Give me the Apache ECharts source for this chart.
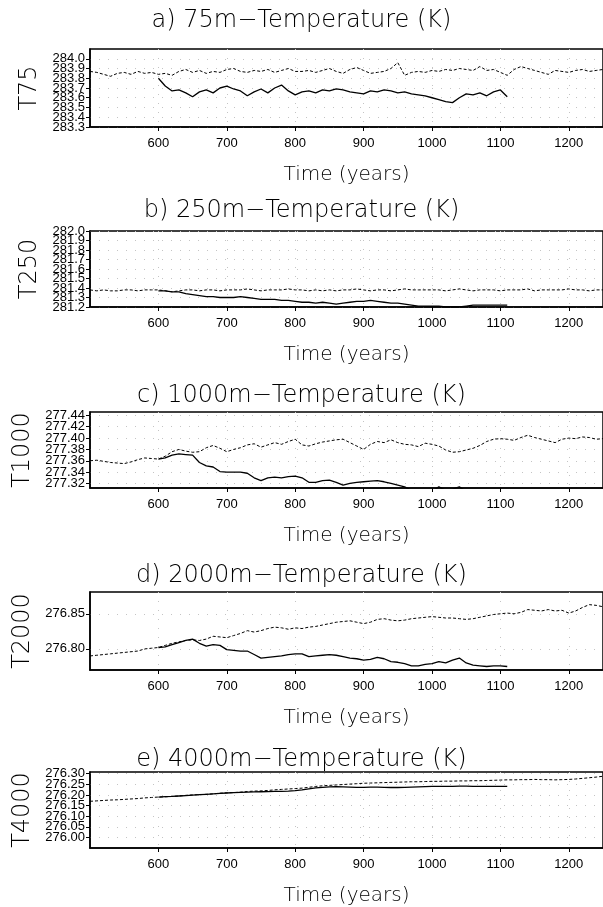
<!DOCTYPE html>
<html>
<head>
<meta charset="utf-8">
<script src="https://cdn.jsdelivr.net/npm/echarts@6/dist/echarts.min.js"></script>
<style>
  html, body { margin: 0; padding: 0; background: #fff; }
  #chart { width: 603px; height: 907px; }
</style>
</head>
<body>
<div id="chart"></div>
<script>
// years of the control run (dashed) and of the perturbed run (solid)
const yearsControl = [500, 510, 520, 530, 540, 550, 560, 570, 580, 590,
  600, 610, 620, 630, 640, 650, 660, 670, 680, 690,
  700, 710, 720, 730, 740, 750, 760, 770, 780, 790,
  800, 810, 820, 830, 840, 850, 860, 870, 880, 890,
  900, 910, 920, 930, 940, 950, 960, 970, 980, 990,
  1000, 1010, 1020, 1030, 1040, 1050, 1060, 1070, 1080, 1090,
  1100, 1110, 1120, 1130, 1140, 1150, 1160, 1170, 1180, 1190,
  1200, 1210, 1220, 1230, 1240, 1250];
const yearsRun = [600, 610, 620, 630, 640, 650, 660, 670, 680, 690,
  700, 710, 720, 730, 740, 750, 760, 770, 780, 790,
  800, 810, 820, 830, 840, 850, 860, 870, 880, 890,
  900, 910, 920, 930, 940, 950, 960, 970, 980, 990,
  1000, 1010, 1020, 1030, 1040, 1050, 1060, 1070, 1080, 1090,
  1100, 1110];
const xTickLabels = [600, 700, 800, 900, 1000, 1100, 1200];

// a) 75m
const t75Control = [283.87, 283.86, 283.84, 283.82, 283.85, 283.86, 283.84, 283.87, 283.85, 283.86,
  283.84, 283.85, 283.83, 283.87, 283.89, 283.86, 283.88, 283.85, 283.87, 283.86,
  283.89, 283.90, 283.87, 283.86, 283.88, 283.87, 283.89, 283.86, 283.88, 283.90,
  283.87, 283.87, 283.88, 283.86, 283.88, 283.90, 283.87, 283.85, 283.89, 283.91,
  283.88, 283.85, 283.86, 283.87, 283.90, 283.96, 283.83, 283.86, 283.87, 283.86,
  283.88, 283.87, 283.89, 283.88, 283.90, 283.89, 283.88, 283.92, 283.88, 283.89,
  283.86, 283.83, 283.89, 283.92, 283.90, 283.88, 283.86, 283.84, 283.88, 283.87,
  283.86, 283.88, 283.89, 283.87, 283.88, 283.89];
const t75Run = [283.80, 283.72, 283.67, 283.68, 283.65, 283.61, 283.66, 283.68, 283.65, 283.70,
  283.72, 283.69, 283.67, 283.62, 283.66, 283.69, 283.65, 283.70, 283.73, 283.67,
  283.63, 283.66, 283.67, 283.65, 283.68, 283.67, 283.69, 283.68, 283.66, 283.65,
  283.64, 283.67, 283.66, 283.68, 283.67, 283.65, 283.66, 283.64, 283.63, 283.62,
  283.60, 283.58, 283.56, 283.55, 283.60, 283.64, 283.63, 283.65, 283.62, 283.66,
  283.68, 283.61];
const t75Ticks = [283.3, 283.4, 283.5, 283.6, 283.7, 283.8, 283.9, 284.0];

// b) 250m
const t250Control = [281.38, 281.37, 281.38, 281.37, 281.37, 281.38, 281.38, 281.37, 281.38, 281.38,
  281.38, 281.37, 281.36, 281.37, 281.38, 281.38, 281.37, 281.38, 281.38, 281.37,
  281.38, 281.38, 281.38, 281.39, 281.38, 281.37, 281.38, 281.38, 281.38, 281.39,
  281.38, 281.38, 281.37, 281.38, 281.37, 281.38, 281.37, 281.38, 281.38, 281.39,
  281.38, 281.37, 281.38, 281.38, 281.37, 281.38, 281.39, 281.38, 281.38, 281.38,
  281.38, 281.38, 281.37, 281.38, 281.39, 281.38, 281.37, 281.38, 281.38, 281.38,
  281.37, 281.38, 281.38, 281.38, 281.39, 281.37, 281.38, 281.38, 281.38, 281.38,
  281.39, 281.38, 281.38, 281.37, 281.38, 281.38];
const t250Run = [281.37, 281.37, 281.36, 281.36, 281.34, 281.33, 281.32, 281.31, 281.31, 281.30,
  281.30, 281.30, 281.31, 281.30, 281.29, 281.28, 281.28, 281.28, 281.27, 281.27,
  281.26, 281.25, 281.25, 281.24, 281.25, 281.24, 281.23, 281.24, 281.25, 281.26,
  281.26, 281.27, 281.26, 281.25, 281.24, 281.24, 281.23, 281.22, 281.21, 281.21,
  281.21, 281.21, 281.20, 281.20, 281.20, 281.21, 281.22, 281.22, 281.22, 281.22,
  281.22, 281.22];
const t250Ticks = [281.2, 281.3, 281.4, 281.5, 281.6, 281.7, 281.8, 281.9, 282.0];

// c) 1000m
const t1000Control = [277.360, 277.361, 277.359, 277.357, 277.356, 277.355, 277.358, 277.362, 277.365, 277.364,
  277.363, 277.368, 277.376, 277.380, 277.377, 277.375, 277.376, 277.383, 277.387, 277.382,
  277.376, 277.380, 277.383, 277.388, 277.390, 277.384, 277.388, 277.392, 277.389, 277.394,
  277.398, 277.388, 277.386, 277.390, 277.393, 277.395, 277.397, 277.398, 277.392, 277.386,
  277.380, 277.389, 277.394, 277.392, 277.397, 277.392, 277.389, 277.388, 277.385, 277.391,
  277.389, 277.386, 277.379, 277.375, 277.376, 277.379, 277.382, 277.387, 277.394, 277.398,
  277.399, 277.398, 277.396, 277.401, 277.405, 277.401, 277.398, 277.395, 277.392, 277.398,
  277.400, 277.399, 277.402, 277.401, 277.398, 277.399];
const t1000Run = [277.363, 277.365, 277.370, 277.372, 277.371, 277.370, 277.357, 277.351, 277.349, 277.341,
  277.340, 277.340, 277.340, 277.338, 277.330, 277.325, 277.330, 277.331, 277.330, 277.332,
  277.333, 277.330, 277.322, 277.322, 277.325, 277.326, 277.322, 277.317, 277.320, 277.322,
  277.323, 277.324, 277.325, 277.323, 277.320, 277.317, 277.314, 277.308, 277.305, 277.304,
  277.306, 277.314, 277.308, 277.310, 277.314, 277.306, 277.304, 277.303, 277.303, 277.302,
  277.302, 277.302];
const t1000Ticks = [277.32, 277.34, 277.36, 277.38, 277.40, 277.42, 277.44];

// d) 2000m
const t2000Control = [276.790, 276.791, 276.792, 276.793, 276.794, 276.795, 276.796, 276.797, 276.800, 276.801,
  276.802, 276.805, 276.808, 276.810, 276.812, 276.813, 276.812, 276.814, 276.818, 276.817,
  276.816, 276.819, 276.822, 276.826, 276.824, 276.826, 276.829, 276.831, 276.830, 276.828,
  276.830, 276.829, 276.831, 276.832, 276.834, 276.836, 276.838, 276.839, 276.840, 276.838,
  276.836, 276.838, 276.842, 276.843, 276.841, 276.840, 276.841, 276.843, 276.844, 276.845,
  276.846, 276.845, 276.844, 276.844, 276.843, 276.842, 276.843, 276.845, 276.847, 276.849,
  276.850, 276.851, 276.850, 276.852, 276.856, 276.855, 276.854, 276.856, 276.854, 276.855,
  276.851, 276.854, 276.859, 276.863, 276.862, 276.860];
const t2000Run = [276.802, 276.803, 276.806, 276.809, 276.812, 276.814, 276.808, 276.804, 276.806, 276.805,
  276.799, 276.798, 276.797, 276.797, 276.792, 276.787, 276.788, 276.789, 276.790, 276.792,
  276.793, 276.793, 276.789, 276.790, 276.791, 276.792, 276.791, 276.789, 276.787, 276.786,
  276.784, 276.785, 276.788, 276.786, 276.782, 276.781, 276.779, 276.776, 276.776, 276.778,
  276.779, 276.782, 276.780, 276.784, 276.787, 276.780, 276.777, 276.776, 276.775, 276.776,
  276.776, 276.775];
const t2000Ticks = [276.80, 276.85];

// e) 4000m
const t4000Control = [276.170, 276.172, 276.174, 276.176, 276.177, 276.179, 276.181, 276.183, 276.186, 276.188,
  276.190, 276.191, 276.193, 276.195, 276.198, 276.200, 276.201, 276.203, 276.205, 276.208,
  276.210, 276.211, 276.213, 276.216, 276.218, 276.219, 276.221, 276.224, 276.226, 276.228,
  276.230, 276.232, 276.236, 276.240, 276.243, 276.245, 276.247, 276.249, 276.251, 276.253,
  276.255, 276.256, 276.257, 276.258, 276.259, 276.260, 276.261, 276.262, 276.262, 276.263,
  276.264, 276.264, 276.265, 276.265, 276.266, 276.266, 276.267, 276.267, 276.268, 276.269,
  276.270, 276.271, 276.271, 276.272, 276.272, 276.273, 276.272, 276.272, 276.271, 276.272,
  276.273, 276.275, 276.278, 276.281, 276.284, 276.288];
const t4000Run = [276.190, 276.192, 276.193, 276.195, 276.197, 276.199, 276.201, 276.203, 276.205, 276.207,
  276.209, 276.211, 276.212, 276.213, 276.214, 276.215, 276.216, 276.217, 276.217, 276.218,
  276.220, 276.224, 276.229, 276.233, 276.236, 276.238, 276.239, 276.238, 276.237, 276.236,
  276.236, 276.237, 276.237, 276.236, 276.235, 276.235, 276.236, 276.237, 276.238, 276.239,
  276.240, 276.240, 276.240, 276.240, 276.241, 276.241, 276.240, 276.240, 276.240, 276.240,
  276.240, 276.240];
const t4000Ticks = [276.00, 276.05, 276.10, 276.15, 276.20, 276.25, 276.30];

const panels = [
  { title: "a) 75m\u2212Temperature (K)", name: "T75", titleY: 4, top: 49, height: 78, min: 283.3, max: 284.1, ticks: t75Ticks, digits: 1, control: t75Control, run: t75Run },
  { title: "b) 250m\u2212Temperature (K)", name: "T250", titleY: 194, top: 231, height: 76, min: 281.2, max: 282.0, ticks: t250Ticks, digits: 1, control: t250Control, run: t250Run },
  { title: "c) 1000m\u2212Temperature (K)", name: "T1000", titleY: 379, top: 412, height: 76, min: 277.312, max: 277.446, ticks: t1000Ticks, digits: 2, control: t1000Control, run: t1000Run },
  { title: "d) 2000m\u2212Temperature (K)", name: "T2000", titleY: 559, top: 592, height: 78, min: 276.77, max: 276.881, ticks: t2000Ticks, digits: 2, control: t2000Control, run: t2000Run },
  { title: "e) 4000m\u2212Temperature (K)", name: "T4000", titleY: 743, top: 772, height: 78, min: 275.95, max: 276.308, ticks: t4000Ticks, digits: 2, control: t4000Control, run: t4000Run },
];

const thinFont = "DejaVu Sans";
const tickFont = "Liberation Sans";
const dots = { show: true, lineStyle: { color: "#c4c4c4", type: [1, 8], width: 1 } };

// ECharts drops labels that crowd the first/last one, so the 2nd and
// next-to-last labels go on a second, otherwise invisible, y axis
const auxTicks = (t) => (t.length > 3 ? [t[1], t[t.length - 2]] : []);
const mainTicks = (t) => (t.length > 3 ? t.filter((v, k) => k !== 1 && k !== t.length - 2) : t);

const yLabel = (p, values) => ({
  customValues: values,
  showMinLabel: true,
  showMaxLabel: true,
  color: "#000",
  fontFamily: tickFont,
  fontSize: 13,
  margin: 5,
  formatter: (v) => v.toFixed(p.digits),
});

const option = {
  animation: false,
  backgroundColor: "#fff",
  title: panels.map((p) => ({
    text: p.title,
    left: "center",
    top: p.titleY,
    textStyle: { fontFamily: thinFont, fontWeight: 200, fontSize: 24, color: "#000" },
  })),
  grid: panels.map((p) => ({
    left: 90,
    right: -1,
    top: p.top,
    height: p.height,
    show: true,
    borderColor: "#000",
    borderWidth: 1.5,
  })),
  xAxis: panels.map((p, i) => ({
    type: "value",
    gridIndex: i,
    min: 500,
    max: 1250,
    name: "Time (years)",
    nameLocation: "middle",
    nameGap: 38,
    nameTextStyle: { fontFamily: thinFont, fontWeight: 200, fontSize: 20, color: "#000" },
    axisLine: { lineStyle: { color: "#000", width: 1.5 } },
    axisTick: { customValues: xTickLabels, length: 4, lineStyle: { color: "#000" } },
    axisLabel: {
      customValues: xTickLabels,
      color: "#000",
      fontFamily: tickFont,
      fontSize: 13,
      margin: 10,
      formatter: (v) => String(v),
    },
    splitLine: dots,
  })),
  yAxis: panels
    .map((p, i) => ({
      type: "value",
      gridIndex: i,
      position: "left",
      min: p.min,
      max: p.max,
      name: p.name,
      nameLocation: "middle",
      nameRotate: 90,
      nameGap: 46,
      nameTextStyle: { fontFamily: thinFont, fontWeight: 200, fontSize: 24, color: "#000" },
      axisLine: { show: true, lineStyle: { color: "#000", width: 1.5 } },
      axisTick: { show: true, customValues: p.ticks, length: 4, lineStyle: { color: "#000" } },
      axisLabel: yLabel(p, mainTicks(p.ticks)),
      splitLine: dots,
    }))
    .concat(
      panels.map((p, i) => ({
        type: "value",
        gridIndex: i,
        position: "left",
        show: auxTicks(p.ticks).length > 0,
        min: p.min,
        max: p.max,
        axisLine: { show: false },
        axisTick: { show: false },
        axisLabel: yLabel(p, auxTicks(p.ticks)),
        splitLine: { show: false },
      }))
    ),
  series: panels.flatMap((p, i) => [
    {
      type: "line",
      xAxisIndex: i,
      yAxisIndex: i,
      data: yearsControl.map((yr, k) => [yr, p.control[k]]),
      symbol: "none",
      lineStyle: { color: "#000", width: 1, type: [3, 2] },
    },
    {
      type: "line",
      xAxisIndex: i,
      yAxisIndex: i,
      data: yearsRun.map((yr, k) => [yr, p.run[k]]),
      symbol: "none",
      lineStyle: { color: "#000", width: 1.3 },
    },
  ]),
};

const chart = echarts.init(document.getElementById("chart"));
chart.setOption(option);
</script>
</body>
</html>
